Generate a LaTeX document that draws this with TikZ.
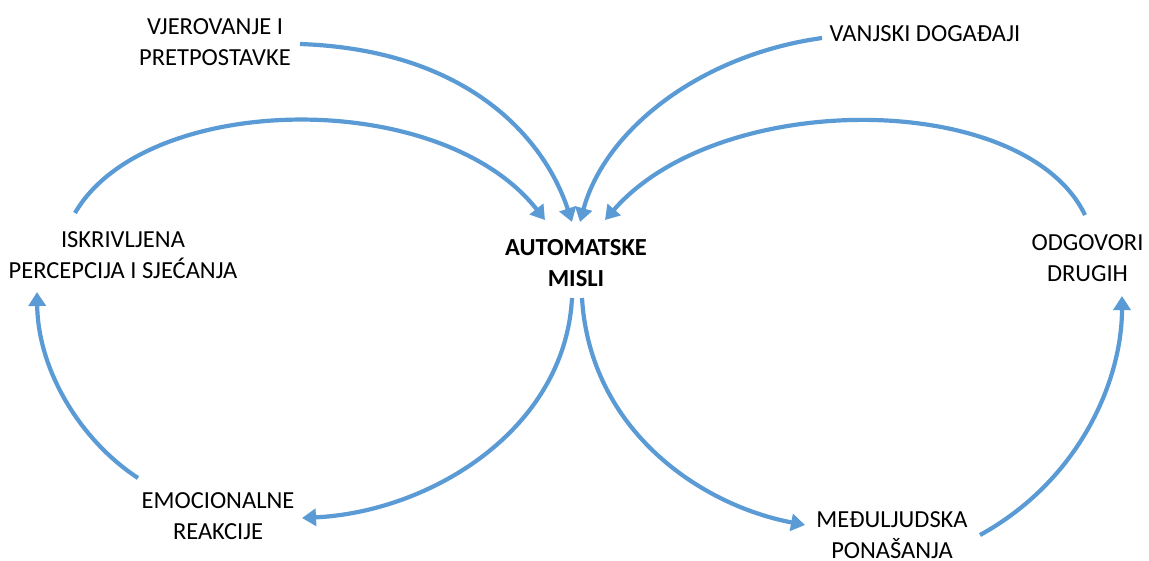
\documentclass[tikz,border=0pt]{standalone}
\usepackage{fontspec}
\setmainfont{Carlito}
\usetikzlibrary{arrows.meta}
\definecolor{flow}{RGB}{91,155,213}
\tikzset{
  lbl/.style={align=center, inner sep=0pt, font=\fontsize{24.5}{31}\selectfont},
  flowline/.style={draw=flow, line width=4.2pt, -{Triangle[width=17pt,length=14pt]}},
}
\begin{document}
\begin{tikzpicture}[x=1pt,y=-1pt]
\path[use as bounding box, fill=white] (0,0) rectangle (1149,560);

% labels
\node[lbl] (bel) at (215,42) {VJEROVANJE I\\PRETPOSTAVKE};
\node[lbl] (ext) at (925,33.5) {VANJSKI DOGAĐAJI};
\node[lbl] (dis) at (123,255.5) {ISKRIVLJENA\\PERCEPCIJA I SJEĆANJA};
\node[lbl, font=\fontsize{24.5}{31}\selectfont\bfseries] (aut) at (576,263) {AUTOMATSKE\\MISLI};
\node[lbl] (oth) at (1087.5,258) {ODGOVORI\\DRUGIH};
\node[lbl] (emo) at (218,516.5) {EMOCIONALNE\\REAKCIJE};
\node[lbl] (beh) at (892,535.5) {MEĐULJUDSKA\\PONAŠANJA};

% curve anchors
\coordinate (belS) at (300,44);
\coordinate (extS) at (822,38);
\coordinate (disS) at (75,213);
\coordinate (disE) at (37,292);
\coordinate (othS) at (1085,215);
\coordinate (othE) at (1122,296);
\coordinate (emoS) at (138,478);
\coordinate (emoE) at (302,518);
\coordinate (behS) at (980,535);
\coordinate (behE) at (805,525);
\coordinate (autA) at (545,220);
\coordinate (autB) at (572,222);
\coordinate (autC) at (580,222);
\coordinate (autD) at (605,220);
\coordinate (autL) at (572,298);
\coordinate (autR) at (582,298);

% incoming connectors
\draw[flowline] (belS) .. controls (470,50) and (545,140) .. (autB);
\draw[flowline] (disS) .. controls (145,92) and (440,86) .. (autA);
\draw[flowline] (extS) .. controls (700,55) and (605,130) .. (autC);
\draw[flowline] (othS) .. controls (1025,90) and (720,88) .. (autD);

% outgoing connectors
\draw[flowline] (autL) .. controls (565,430) and (430,512) .. (emoE);
\draw[flowline] (autR) .. controls (590,430) and (700,505) .. (behE);

% outer loops
\draw[flowline] (emoS) .. controls (80,440) and (38,370) .. (disE);
\draw[flowline] (behS) .. controls (1080,480) and (1122,380) .. (othE);
\end{tikzpicture}
\end{document}
